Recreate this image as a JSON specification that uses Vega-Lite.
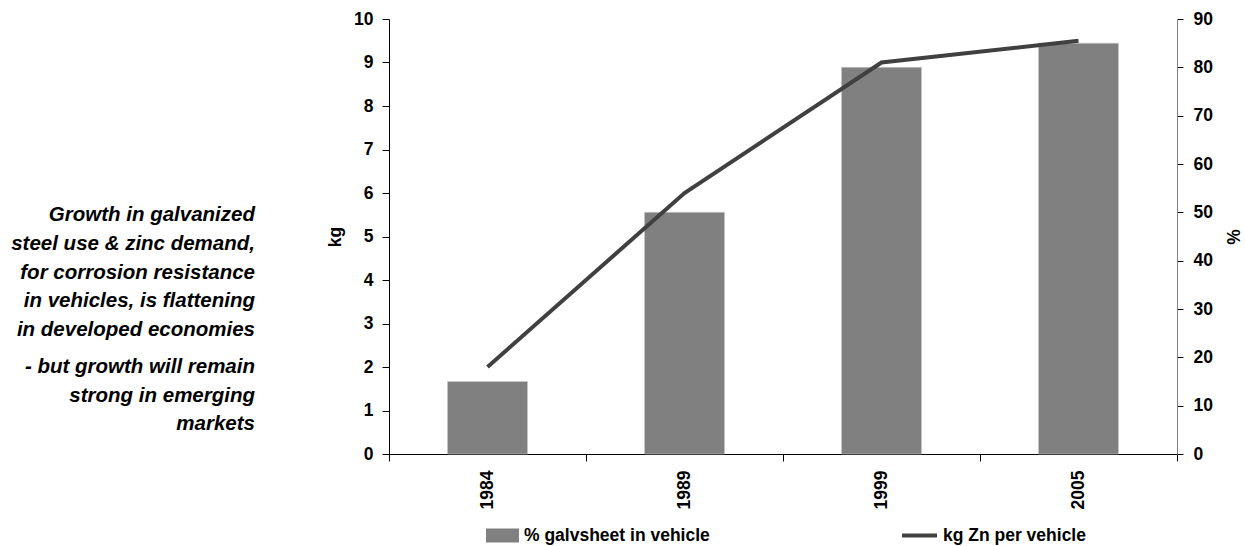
{
  "$schema": "https://vega.github.io/schema/vega-lite/v6.json",
  "width": 788,
  "height": 435,
  "autosize": {"type": "none"},
  "padding": {"left": 389, "top": 19, "right": 68, "bottom": 92},
  "background": "white",
  "config": {
    "view": {"stroke": null},
    "font": "Liberation Sans",
    "axis": {
      "labelFont": "Liberation Sans",
      "labelFontWeight": "bold",
      "labelFontSize": 17.5,
      "labelColor": "black",
      "titleFont": "Liberation Sans",
      "titleFontWeight": "bold",
      "titleFontSize": 17.5,
      "titleColor": "black",
      "domainColor": "black",
      "tickColor": "black",
      "grid": false
    },
    "legend": {
      "labelFont": "Liberation Sans",
      "labelFontWeight": "bold",
      "labelFontSize": 17.5,
      "labelColor": "black",
      "labelLimit": 400,
      "padding": 0
    }
  },
  "title": {
    "text": [
      "Growth in galvanized",
      "steel use & zinc demand,",
      "for corrosion resistance",
      "in vehicles, is flattening",
      "in developed economies"
    ],
    "subtitle": [
      "- but growth will remain",
      "strong in emerging",
      "markets"
    ],
    "orient": "top",
    "anchor": "start",
    "frame": "group",
    "align": "right",
    "dx": -134,
    "dy": 429,
    "font": "Liberation Sans",
    "fontSize": 20.5,
    "fontStyle": "italic",
    "fontWeight": "bold",
    "lineHeight": 28.6,
    "color": "black",
    "subtitleFont": "Liberation Sans",
    "subtitleFontSize": 20.5,
    "subtitleFontStyle": "italic",
    "subtitleFontWeight": "bold",
    "subtitleLineHeight": 28.6,
    "subtitleColor": "black",
    "subtitlePadding": 17
  },
  "data": {
    "values": [
      {"year": "1984", "series": "% galvsheet in vehicle", "value": 15},
      {"year": "1989", "series": "% galvsheet in vehicle", "value": 50},
      {"year": "1999", "series": "% galvsheet in vehicle", "value": 80},
      {"year": "2005", "series": "% galvsheet in vehicle", "value": 85},
      {"year": "1984", "series": "kg Zn per vehicle", "value": 2.0},
      {"year": "1989", "series": "kg Zn per vehicle", "value": 6.0},
      {"year": "1999", "series": "kg Zn per vehicle", "value": 9.0},
      {"year": "2005", "series": "kg Zn per vehicle", "value": 9.5}
    ]
  },
  "encoding": {
    "x": {
      "field": "year",
      "type": "ordinal",
      "scale": {"paddingInner": 0, "paddingOuter": 0},
      "axis": {
        "title": null,
        "labelAngle": -90,
        "tickBand": "extent",
        "tickSize": 7,
        "labelPadding": 9
      }
    }
  },
  "layer": [
    {
      "transform": [{"filter": "datum.series === '% galvsheet in vehicle'"}],
      "mark": {"type": "bar", "width": 80, "stroke": "#c8c8c8", "strokeWidth": 0.6},
      "encoding": {
        "y": {
          "field": "value",
          "type": "quantitative",
          "scale": {"domain": [0, 90], "nice": false},
          "axis": {
            "orient": "right",
            "title": "%",
            "values": [0, 10, 20, 30, 40, 50, 60, 70, 80, 90],
            "domainColor": "#808080",
            "tickSize": 6,
            "labelPadding": 10,
            "titlePadding": 10
          }
        },
        "fill": {
          "field": "series",
          "type": "nominal",
          "scale": {"range": ["#808080"]},
          "legend": {
            "title": null,
            "orient": "none",
            "direction": "horizontal",
            "legendX": 97,
            "legendY": 500,
            "symbolType": "M-1,-0.42H1V0.42H-1Z",
            "symbolSize": 1089,
            "symbolStrokeWidth": 0,
            "labelOffset": 5
          }
        }
      }
    },
    {
      "transform": [{"filter": "datum.series === 'kg Zn per vehicle'"}],
      "mark": {"type": "line", "strokeWidth": 4},
      "encoding": {
        "y": {
          "field": "value",
          "type": "quantitative",
          "scale": {"domain": [0, 10], "nice": false},
          "axis": {
            "orient": "left",
            "title": "kg",
            "values": [0, 1, 2, 3, 4, 5, 6, 7, 8, 9, 10],
            "tickSize": 7,
            "labelPadding": 9,
            "titlePadding": 9
          }
        },
        "stroke": {
          "field": "series",
          "type": "nominal",
          "scale": {"range": ["#404040"]},
          "legend": {
            "title": null,
            "orient": "none",
            "direction": "horizontal",
            "legendX": 511,
            "legendY": 497,
            "symbolType": "stroke",
            "symbolSize": 1225,
            "symbolStrokeWidth": 4,
            "labelOffset": 4
          }
        }
      }
    }
  ],
  "resolve": {"scale": {"y": "independent"}}
}
